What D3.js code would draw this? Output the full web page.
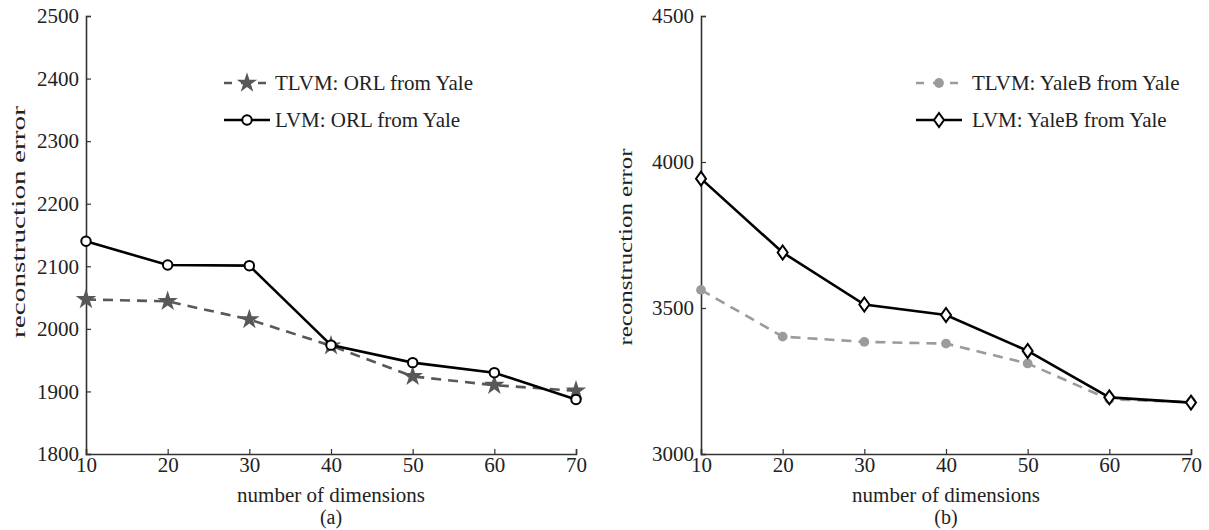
<!DOCTYPE html>
<html>
<head>
<meta charset="utf-8">
<script src="https://cdn.jsdelivr.net/npm/d3@7"></script>
<style>
  body { margin: 0; background: #fff; }
  text { font-family: 'Liberation Serif', 'Times New Roman', serif; fill: #222; }
</style>
</head>
<body>
<div id="chart"></div>
<script>
// values
const dims = [10, 20, 30, 40, 50, 60, 70]

const orlTLVM = [2047, 2044, 2015, 1973, 1924, 1910, 1901]
const orlLVM = [2140, 2102, 2101, 1974, 1946, 1930, 1887]

const yaleBTLVM = [3562, 3402, 3384, 3378, 3310, 3187, 3178]
const yaleBLVM = [3943, 3690, 3512, 3476, 3353, 3194, 3176]

const xTicks = [10, 20, 30, 40, 50, 60, 70]
const yTicksA = [1800, 1900, 2000, 2100, 2200, 2300, 2400, 2500]
const yTicksB = [3000, 3500, 4000, 4500]

const width = 1209
const height = 530
const fontSize = '21px'

const svg = d3.select('#chart')
  .append('svg')
  .attr('width', width)
  .attr('height', height)

const star = d3.symbol().type(d3.symbolStar).size(130)
const dot = d3.symbol().type(d3.symbolCircle).size(75)
const ring = d3.symbol().type(d3.symbolCircle).size(70)
// tall diamond, 5 wide by 7 high
const diamond = () => 'M0,-7L5,0L0,7L-5,0Z'

const panels = [
  {
    left: 86, right: 576, top: 16, bottom: 454,
    yDomain: [1800, 2500], yTicks: yTicksA, caption: '(a)',
    yTitleX: 25, yTitleY: 222, yTitleLen: 232,
    legendX: 224, textX: 275,
    series: [
      { name: 'TLVM: ORL from Yale', values: orlTLVM, color: '#585858', dash: '10,7', marker: star, fill: '#585858', mstroke: 'none' },
      { name: 'LVM: ORL from Yale', values: orlLVM, color: '#000', dash: null, marker: ring, fill: '#fff', mstroke: '#000' }
    ]
  },
  {
    left: 701, right: 1191, top: 16, bottom: 454,
    yDomain: [3000, 4500], yTicks: yTicksB, caption: '(b)',
    yTitleX: 632, yTitleY: 247, yTitleLen: 197,
    legendX: 916, textX: 972,
    series: [
      { name: 'TLVM: YaleB from Yale', values: yaleBTLVM, color: '#9b9b9b', dash: '10,7', marker: dot, fill: '#9b9b9b', mstroke: 'none' },
      { name: 'LVM: YaleB from Yale', values: yaleBLVM, color: '#000', dash: null, marker: diamond, fill: '#fff', mstroke: '#000' }
    ]
  }
]

panels.forEach(p => {
  const x = d3.scaleLinear().domain([10, 70]).range([p.left, p.right])
  const y = d3.scaleLinear().domain(p.yDomain).range([p.bottom, p.top])
  const g = svg.append('g')

  // x axis, ticks pointing inward
  const xAxis = g.append('g')
    .attr('transform', `translate(0,${p.bottom})`)
    .call(d3.axisTop(x).tickValues(xTicks).tickSize(5).tickFormat(d3.format('d')))
  xAxis.attr('font-family', null).attr('font-size', null)
  xAxis.select('.domain').attr('stroke', '#333').attr('stroke-width', 1.6)
  xAxis.selectAll('.tick line').attr('stroke', '#333').attr('stroke-width', 1.2)
  xAxis.selectAll('.tick text')
    .attr('y', 18)
    .attr('dy', 0)
    .style('font-size', fontSize)

  // y axis, ticks pointing inward
  const yAxis = g.append('g')
    .attr('transform', `translate(${p.left},0)`)
    .call(d3.axisRight(y).tickValues(p.yTicks).tickSize(5).tickFormat(d3.format('d')))
  yAxis.attr('font-family', null).attr('font-size', null)
  yAxis.select('.domain').attr('stroke', '#333').attr('stroke-width', 1.6)
  yAxis.selectAll('.tick line').attr('stroke', '#333').attr('stroke-width', 1.2)
  yAxis.selectAll('.tick text')
    .attr('x', -7)
    .attr('text-anchor', 'end')
    .style('font-size', fontSize)

  g.append('text')
    .attr('x', (p.left + p.right) / 2)
    .attr('y', 502)
    .attr('text-anchor', 'middle')
    .style('font-size', fontSize)
    .text('number of dimensions')

  g.append('text')
    .attr('x', (p.left + p.right) / 2)
    .attr('y', 524)
    .attr('text-anchor', 'middle')
    .style('font-size', '20px')
    .text(p.caption)

  // the reference stretches this label along its length
  g.append('text')
    .attr('transform', `translate(${p.yTitleX},${p.yTitleY}) rotate(-90)`)
    .attr('text-anchor', 'middle')
    .attr('textLength', p.yTitleLen)
    .attr('lengthAdjust', 'spacingAndGlyphs')
    .style('font-size', '19px')
    .text('reconstruction error')

  const line = d3.line()
    .x((d, i) => x(dims[i]))
    .y(d => y(d))

  p.series.forEach(s => {
    g.append('path')
      .datum(s.values)
      .attr('fill', 'none')
      .attr('stroke', s.color)
      .attr('stroke-width', 2.6)
      .attr('stroke-dasharray', s.dash)
      .attr('d', line)

    g.selectAll(null)
      .data(s.values)
      .enter()
      .append('path')
      .attr('transform', (d, i) => `translate(${x(dims[i])},${y(d)})`)
      .attr('d', s.marker)
      .attr('fill', s.fill)
      .attr('stroke', s.mstroke)
      .attr('stroke-width', 2)
  })

  // legend
  p.series.forEach((s, i) => {
    const ly = 83 + i * 37
    g.append('line')
      .attr('x1', p.legendX)
      .attr('x2', p.legendX + 46)
      .attr('y1', ly)
      .attr('y2', ly)
      .attr('stroke', s.color)
      .attr('stroke-width', 2.6)
      .attr('stroke-dasharray', s.dash ? '8,9' : null)
    g.append('path')
      .attr('transform', `translate(${p.legendX + 23},${ly})`)
      .attr('d', s.marker)
      .attr('fill', s.fill)
      .attr('stroke', s.mstroke)
      .attr('stroke-width', 2)
    g.append('text')
      .attr('x', p.textX)
      .attr('y', ly)
      .attr('dy', '0.35em')
      .style('font-size', fontSize)
      .text(s.name)
  })
})
</script>
</body>
</html>
